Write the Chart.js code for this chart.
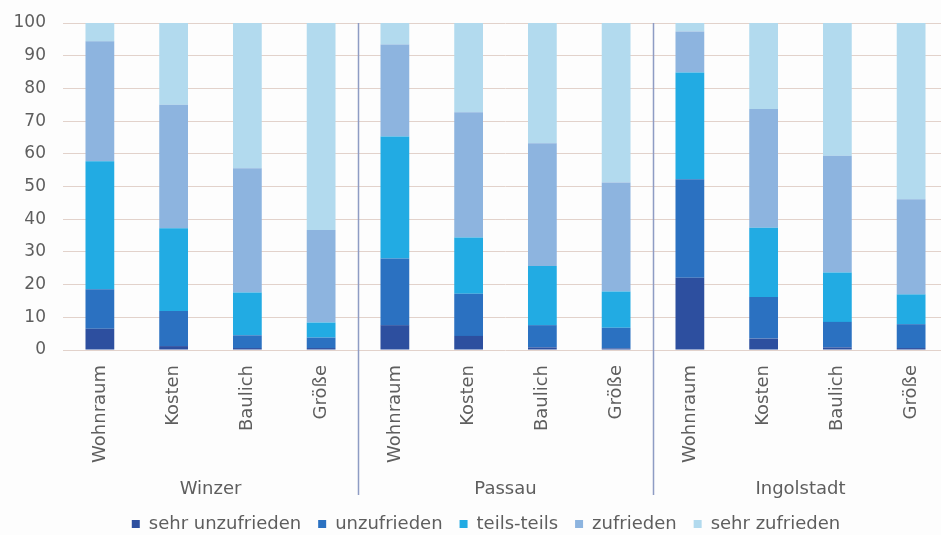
<!DOCTYPE html>
<html>
<head>
<meta charset="utf-8">
<script src="https://cdn.jsdelivr.net/npm/chart.js@4"></script>
<style>
  html, body { margin: 0; padding: 0; background: #fdfdfd; overflow: hidden; }
  #wrap { width: 972px; height: 535px; }
</style>
</head>
<body>
<div id="wrap"><canvas id="chart"></canvas></div>
<script>
// categories: 4 aspects per town
const categories = ['Wohnraum', 'Kosten', 'Baulich', 'Größe',
                    'Wohnraum', 'Kosten', 'Baulich', 'Größe',
                    'Wohnraum', 'Kosten', 'Baulich', 'Größe'];
const groups = ['Winzer', 'Passau', 'Ingolstadt'];

// share in percent
const sehrUnzufrieden = [6.5, 1.2, 0.6, 0.6, 7.6, 4.3, 0.8, 0.5, 22.1, 3.5, 0.8, 0.6];
const unzufrieden     = [12.1, 10.7, 3.9, 3.2, 20.4, 12.9, 6.8, 6.3, 30.1, 12.7, 7.8, 7.3];
const teilsTeils      = [39.1, 25.3, 13.1, 4.6, 37.3, 17.2, 18.1, 11.1, 32.7, 21.2, 15.1, 9.1];
const zufrieden       = [36.7, 37.8, 38.0, 28.3, 28.1, 38.3, 37.5, 33.3, 12.5, 36.3, 35.7, 29.1];
const sehrZufrieden   = [5.6, 25.0, 44.4, 63.3, 6.6, 27.3, 36.8, 48.8, 2.6, 26.3, 40.6, 53.9];

const yTicks = [0, 10, 20, 30, 40, 50, 60, 70, 80, 90, 100];

Chart.defaults.font.family = 'DejaVu Sans';
Chart.defaults.font.size = 18;
Chart.defaults.color = '#5e5e5e';

// vertical lines between the towns
const groupLines = {
  id: 'groupLines',
  afterDatasetsDraw(chart) {
    const x = chart.scales.x;
    const x2 = chart.scales.x2;
    const ctx = chart.ctx;
    ctx.save();
    ctx.strokeStyle = '#8e9cc4';
    ctx.lineWidth = 1.5;
    for (let g = 1; g < groups.length; g++) {
      const i = g * 4;
      const px = Math.round((x.getPixelForTick(i - 1) + x.getPixelForTick(i)) / 2) + 0.5;
      ctx.beginPath();
      ctx.moveTo(px, chart.chartArea.top);
      ctx.lineTo(px, x2.bottom - 3);
      ctx.stroke();
    }
    ctx.restore();
  }
};

const ds = (label, data, color) => ({
  label, data, backgroundColor: color, borderWidth: 0,
  barPercentage: 0.39, categoryPercentage: 1
});

new Chart(document.getElementById('chart'), {
  type: 'bar',
  data: {
    labels: categories,
    datasets: [
      ds('sehr unzufrieden', sehrUnzufrieden, '#2d4f9f'),
      ds('unzufrieden', unzufrieden, '#2b71c1'),
      ds('teils-teils', teilsTeils, '#22abe3'),
      ds('zufrieden', zufrieden, '#8db4df'),
      ds('sehr zufrieden', sehrZufrieden, '#b2daee')
    ]
  },
  options: {
    responsive: true,
    maintainAspectRatio: false,
    animation: false,
    layout: { padding: { top: 23, right: 0, left: 0, bottom: -8 } },
    scales: {
      x: {
        stacked: true,
        grid: { display: false },
        border: { display: false },
        ticks: { minRotation: 90, maxRotation: 90, autoSkip: false, padding: 7 },
        afterFit: s => { s.height = 127; s.paddingRight = 24; }
      },
      x2: {
        type: 'category',
        labels: groups,
        offset: true,
        position: 'bottom',
        grid: { display: false },
        border: { display: false },
        ticks: { padding: -6 },
        afterFit: s => { s.height = 21; s.paddingRight = 24; }
      },
      y: {
        stacked: true,
        min: 0,
        max: 100,
        afterBuildTicks: s => { s.ticks = yTicks.map(v => ({ value: v })); },
        grid: { color: '#e2d2cb', lineWidth: 1, drawTicks: false },
        border: { display: false },
        ticks: { padding: 17, font: { size: 17 } },
        afterFit: s => { s.width = 63; s.paddingTop = 0; s.paddingBottom = 0; }
      }
    },
    plugins: {
      legend: {
        position: 'bottom',
        labels: { boxWidth: 8, boxHeight: 8, padding: 17, font: { size: 18 } }
      },
      tooltip: { enabled: false }
    }
  },
  plugins: [groupLines]
});
</script>
</body>
</html>
